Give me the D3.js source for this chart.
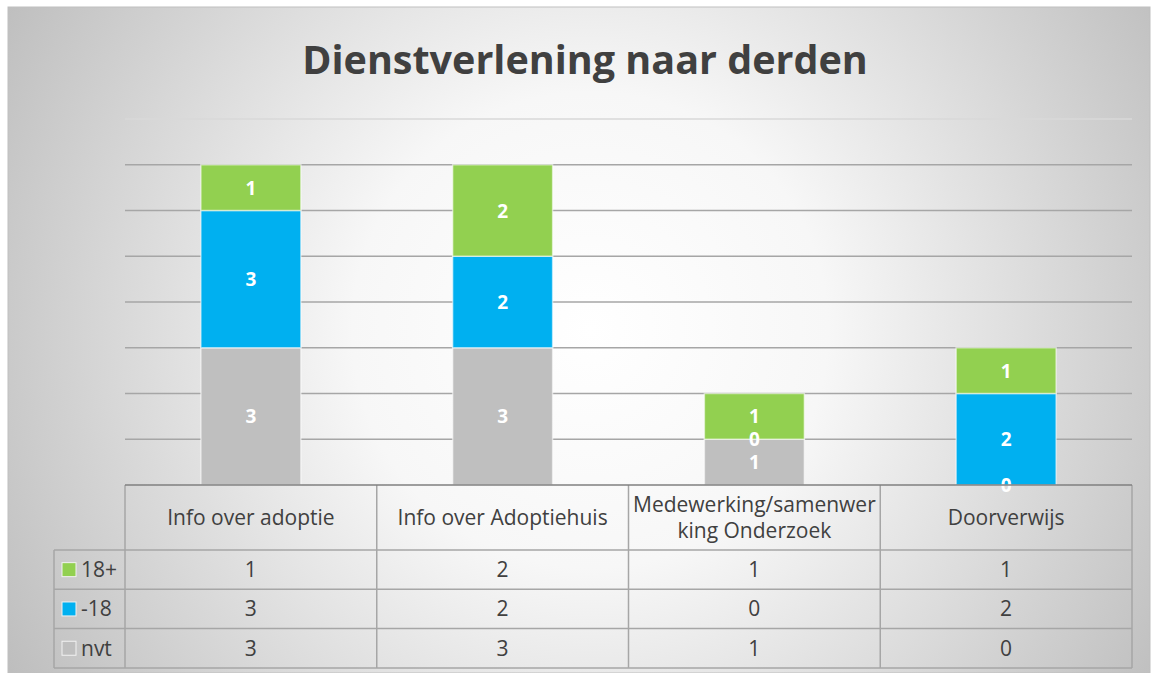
<!DOCTYPE html>
<html>
<head>
<meta charset="utf-8">
<script src="https://cdn.jsdelivr.net/npm/d3@7"></script>
<style>
  html, body { margin: 0; padding: 0; background: #fff; }
  svg { display: block; }
</style>
</head>
<body>
<div id="chart"></div>
<script>
// Data
const categories = ['Info over adoptie', 'Info over Adoptiehuis', 'Medewerking/samenwerking Onderzoek', 'Doorverwijs'];
const categoryLines = [['Info over adoptie'], ['Info over Adoptiehuis'], ['Medewerking/samenwer', 'king Onderzoek'], ['Doorverwijs']];
const seriesNames = ['nvt', '-18', '18+'];
const nvt = [3, 3, 1, 0];
const min18 = [3, 2, 0, 2];
const plus18 = [1, 2, 1, 1];
const seriesColors = ['#bfbfbf', '#00b0f0', '#92d050'];
const yTicks = [0, 1, 2, 3, 4, 5, 6, 7, 8];

const W = 1153, H = 673;
const plot = { left: 125, right: 1132, top: 119, bottom: 485 };
const font = '"Open Sans", sans-serif';

const svg = d3.select('#chart').append('svg')
    .attr('width', W)
    .attr('height', H);

// Background gradient
const defs = svg.append('defs');
const grad = defs.append('radialGradient')
    .attr('id', 'bg')
    .attr('gradientUnits', 'userSpaceOnUse')
    .attr('cx', 590).attr('cy', 330).attr('r', 680);
grad.append('stop').attr('offset', '0%').attr('stop-color', '#ffffff');
grad.append('stop').attr('offset', '35%').attr('stop-color', '#f7f7f7');
grad.append('stop').attr('offset', '100%').attr('stop-color', '#bdbdbd');

svg.append('rect')
    .attr('x', 8).attr('y', 7)
    .attr('width', 1142).attr('height', 666)
    .attr('fill', 'url(#bg)')
    .attr('stroke', '#bfbfbf')
    .attr('stroke-width', 1);

// Title
svg.append('text')
    .attr('x', 585).attr('y', 74)
    .attr('text-anchor', 'middle')
    .attr('font-family', font)
    .attr('font-size', 39.5)
    .attr('font-weight', 'bold')
    .attr('fill', '#404040')
    .text('Dienstverlening naar derden');

// Scales
const x = d3.scaleBand()
    .domain(categories)
    .range([plot.left, plot.right])
    .paddingInner(0).paddingOuter(0);

const y = d3.scaleLinear()
    .domain([0, 8])
    .range([plot.bottom, plot.top]);

// Gridlines
svg.append('g')
    .selectAll('line')
    .data(yTicks.filter(d => d > 0))
    .join('line')
    .attr('x1', plot.left).attr('x2', plot.right)
    .attr('y1', d => y(d)).attr('y2', d => y(d))
    .attr('stroke', d => d === 8 ? '#d9d9d9' : '#a6a6a6')
    .attr('stroke-width', 1.3);

// Stack
const rows = categories.map((c, i) => ({ cat: c, nvt: nvt[i], '-18': min18[i], '18+': plus18[i] }));
const stacked = d3.stack().keys(seriesNames)(rows);

const barW = x.bandwidth() * 0.397;

const layer = svg.append('g')
    .selectAll('g')
    .data(stacked)
    .join('g')
    .attr('fill', (d, i) => seriesColors[i]);

layer.selectAll('rect')
    .data(d => d)
    .join('rect')
    .attr('x', d => x(d.data.cat) + (x.bandwidth() - barW) / 2)
    .attr('y', d => y(d[1]))
    .attr('width', barW)
    .attr('height', d => y(d[0]) - y(d[1]))
    .attr('stroke', 'rgba(255,255,255,0.55)')
    .attr('stroke-width', 1.5);

// Data labels (drawn above all bars)
const labelGroup = svg.append('g');
stacked.forEach(s => {
    labelGroup.selectAll(null)
        .data(s)
        .join('text')
        .attr('x', d => x(d.data.cat) + x.bandwidth() / 2)
        .attr('y', d => (y(d[0]) + y(d[1])) / 2 + 7)
        .attr('text-anchor', 'middle')
        .attr('font-family', font)
        .attr('font-size', 19)
        .attr('font-weight', 'bold')
        .attr('fill', '#ffffff')
        .text(d => d[1] - d[0]);
});

// Data table
const headerBottom = 550;
const rowH = 39.3;
const tableRows = [
    { name: '18+', values: plus18, color: seriesColors[2] },
    { name: '-18', values: min18, color: seriesColors[1] },
    { name: 'nvt', values: nvt, color: seriesColors[0] }
];
const tableBottom = headerBottom + rowH * tableRows.length;
const legendLeft = 54;
const tableFont = 21;

const table = svg.append('g');
const lineColor = '#a6a6a6';

// horizontal lines
tableRows.forEach((r, i) => {
    table.append('line')
        .attr('x1', legendLeft).attr('x2', plot.right)
        .attr('y1', headerBottom + rowH * i).attr('y2', headerBottom + rowH * i)
        .attr('stroke', lineColor).attr('stroke-width', 1.5);
});
table.append('line')
    .attr('x1', legendLeft).attr('x2', plot.right)
    .attr('y1', tableBottom).attr('y2', tableBottom)
    .attr('stroke', lineColor).attr('stroke-width', 1.5);

// vertical lines
const bounds = categories.map(c => x(c)).concat([plot.right]);
table.selectAll('line.v')
    .data(bounds)
    .join('line')
    .attr('class', 'v')
    .attr('x1', d => d).attr('x2', d => d)
    .attr('y1', plot.bottom).attr('y2', tableBottom)
    .attr('stroke', lineColor).attr('stroke-width', 1.5);
table.append('line')
    .attr('x1', legendLeft).attr('x2', legendLeft)
    .attr('y1', headerBottom).attr('y2', tableBottom)
    .attr('stroke', lineColor).attr('stroke-width', 1.5);

// axis line
svg.append('line')
    .attr('x1', plot.left).attr('x2', plot.right)
    .attr('y1', plot.bottom).attr('y2', plot.bottom)
    .attr('stroke', '#7f7f7f').attr('stroke-width', 1.5);

// header text
const header = table.selectAll('text.h')
    .data(categories)
    .join('text')
    .attr('class', 'h')
    .attr('text-anchor', 'middle')
    .attr('font-family', font)
    .attr('font-size', tableFont)
    .attr('fill', '#404040');
header.each(function (c, i) {
    const lines = categoryLines[i];
    const cx = x(c) + x.bandwidth() / 2;
    const cy = (plot.bottom + headerBottom) / 2;
    const lh = 26;
    const y0 = cy - (lines.length - 1) * lh / 2 + 7.5;
    d3.select(this).selectAll('tspan')
        .data(lines)
        .join('tspan')
        .attr('x', cx)
        .attr('y', (l, j) => y0 + j * lh)
        .text(l => l);
});

// row legend + values
tableRows.forEach((r, i) => {
    const cy = headerBottom + rowH * i + rowH / 2;
    table.append('rect')
        .attr('x', 62).attr('y', cy - 7)
        .attr('width', 14).attr('height', 14)
        .attr('fill', r.color)
        .attr('stroke', '#f2f2f2').attr('stroke-width', 1);
    table.append('text')
        .attr('x', 81).attr('y', cy + 7.5)
        .attr('font-family', font)
        .attr('font-size', tableFont)
        .attr('fill', '#404040')
        .text(r.name);
    table.selectAll(null)
        .data(r.values)
        .join('text')
        .attr('x', (v, j) => x(categories[j]) + x.bandwidth() / 2)
        .attr('y', cy + 7.5)
        .attr('text-anchor', 'middle')
        .attr('font-family', font)
        .attr('font-size', tableFont)
        .attr('fill', '#404040')
        .text(v => v);
});
</script>
</body>
</html>
